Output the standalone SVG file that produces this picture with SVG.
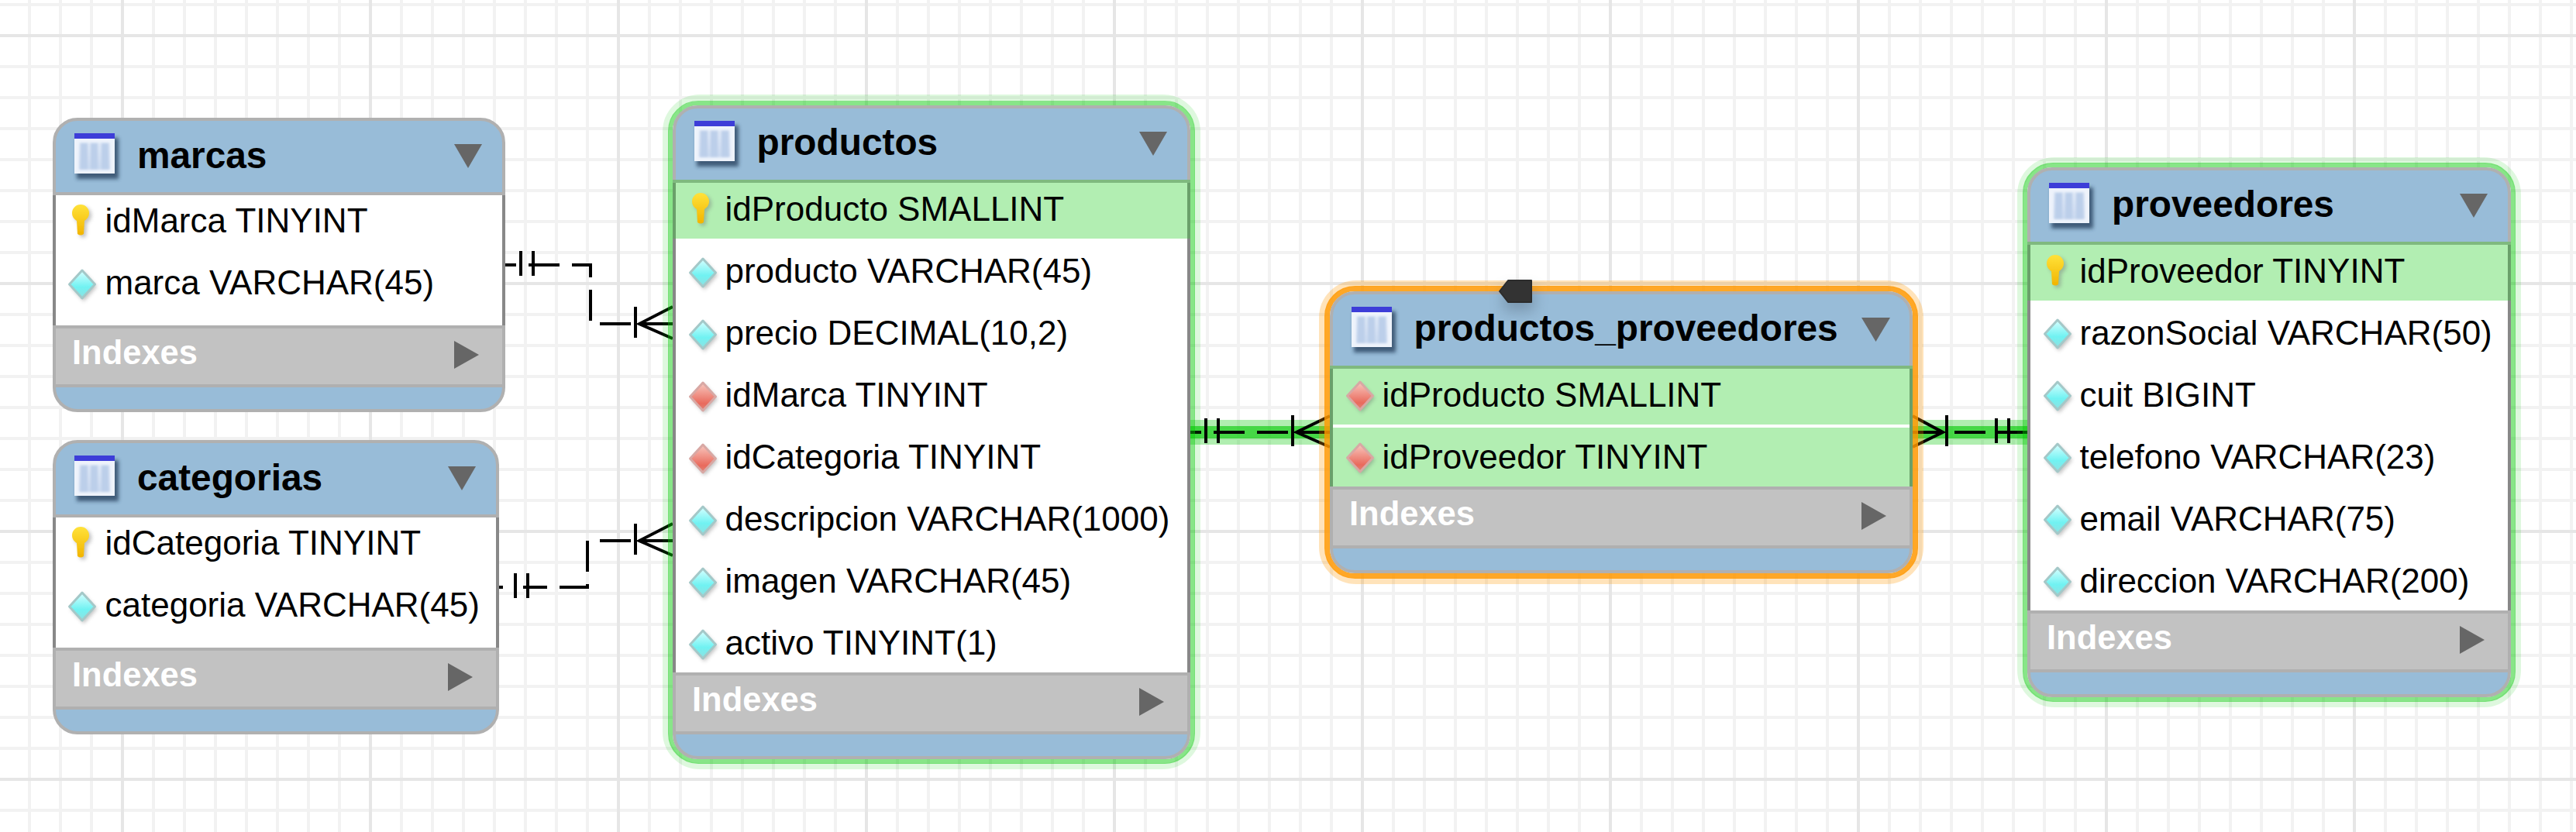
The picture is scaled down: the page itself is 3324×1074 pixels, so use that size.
<svg xmlns="http://www.w3.org/2000/svg" xmlns:xlink="http://www.w3.org/1999/xlink" width="3324" height="1074" viewBox="0 0 3324 1074">
<style>
text{font-family:"Liberation Sans",Arial,Helvetica,sans-serif;fill:#000}
.t{font-size:47.8px;font-weight:700}
.r{font-size:44px}
.i{font-size:43.5px;font-weight:700;fill:#fff}
.blue{fill:#98bcd8;stroke:#b0b0b0;stroke-width:4}
.wh{fill:#fff}
.idx{fill:#c2c2c2}
.ln{fill:#b0b0b0}
.gl{fill:#7fb97f}
.sd{fill:#888}
.hl{fill:#b2eeb2}
.sg{fill:#6aa06a}
.ar{fill:#666}
.c{stroke:#000;stroke-width:4;fill:none}
.b1{fill:rgb(0,200,0);fill-opacity:.31}
.b2{fill:rgb(0,200,0);fill-opacity:.6}
.gh{fill:none;stroke:rgb(0,199,0);stroke-opacity:.13;stroke-width:8}
.go{fill:none;stroke:rgb(0,199,0);stroke-opacity:.467;stroke-width:6}
.oh{fill:none;stroke:rgb(255,152,0);stroke-opacity:.27;stroke-width:8}
.oo{fill:none;stroke:rgb(255,152,0);stroke-opacity:.85;stroke-width:7}
</style>
<defs>
<pattern id="minor" patternUnits="userSpaceOnUse" x="36" y="4" width="40" height="40"><rect width="4" height="40" fill="#f2f2f2"/><rect width="40" height="4" fill="#f2f2f2"/></pattern>
<pattern id="major" patternUnits="userSpaceOnUse" x="156" y="44" width="320" height="320"><rect width="4" height="320" fill="#e6e6e6"/><rect width="320" height="4" fill="#e6e6e6"/></pattern>
<filter id="b05" x="-20%" y="-20%" width="140%" height="140%"><feGaussianBlur stdDeviation=".7"/></filter>
<filter id="b1" x="-40%" y="-40%" width="180%" height="180%"><feGaussianBlur stdDeviation="1.5"/></filter>
<filter id="b2" x="-40%" y="-40%" width="180%" height="180%"><feGaussianBlur stdDeviation="2.5"/></filter>
<filter id="b3" x="-60%" y="-60%" width="220%" height="220%"><feGaussianBlur stdDeviation="9"/></filter>
<linearGradient id="gk" x1="0" y1="0" x2="0" y2="1"><stop offset="0" stop-color="#ffe23a"/><stop offset="1" stop-color="#f2b400"/></linearGradient>
<linearGradient id="gc" x1="0" y1="0" x2="0" y2="1"><stop offset="0" stop-color="#d8ffff"/><stop offset=".6" stop-color="#70f2f2"/><stop offset="1" stop-color="#8fe0e0"/></linearGradient>
<linearGradient id="gr" x1="0" y1="0" x2="0" y2="1"><stop offset="0" stop-color="#f8c8c0"/><stop offset=".75" stop-color="#e96a5c"/><stop offset="1" stop-color="#e08478"/></linearGradient>
<linearGradient id="gt" x1="0" y1="0" x2="0" y2="1"><stop offset="0" stop-color="#dfe8f6"/><stop offset="1" stop-color="#c8d7ef"/></linearGradient>
<g id="tbl">
<rect x="3" y="6" width="54" height="53" fill="#243a58" opacity=".75" filter="url(#b2)"/>
<rect x="0" y="7" width="52" height="45" fill="#eef3fb" filter="url(#b05)"/>
<rect x="6" y="12" width="40" height="35" fill="url(#gt)" filter="url(#b1)"/>
<rect x="8" y="13" width="9" height="33" fill="#bccfea" filter="url(#b1)"/>
<rect x="21" y="13" width="9" height="33" fill="#bccfea" filter="url(#b1)"/>
<rect x="35" y="13" width="9" height="33" fill="#bccfea" filter="url(#b1)"/>
<rect x="0" y="0" width="52" height="7" fill="#3c3cd8" filter="url(#b05)"/>
</g>
<g id="key">
<path d="M-11 0a11 11 0 1 1 22 0c0 5-3 8-6 10l-1 17q-4 3-8 0l-1-17c-3-2-6-5-6-10z" transform="translate(3,3)" fill="#777" opacity=".45" filter="url(#b2)"/>
<path d="M-11 0a11 11 0 1 1 22 0c0 5-3 8-6 10l-1 17q-4 3-8 0l-1-17c-3-2-6-5-6-10z" fill="url(#gk)" filter="url(#b05)"/>
</g>
<polygon id="ds" points="0,-19 17,0 0,19 -17,0" transform="translate(2,3)" fill="#666" opacity=".4" filter="url(#b2)"/>
<g id="dc"><use href="#ds"/><polygon points="0,-18 16.500,0 0,18 -16.500,0" fill="url(#gc)" stroke="#a4c8c8" stroke-width="3" stroke-linejoin="round" filter="url(#b05)"/></g>
<g id="dr"><use href="#ds"/><polygon points="0,-18 16.500,0 0,18 -16.500,0" fill="url(#gr)" stroke="#d8a8a4" stroke-width="3" stroke-linejoin="round" filter="url(#b05)"/></g>
</defs>

<rect id="canvas" width="3324" height="1074" fill="#fff"/>
<rect id="grid-minor" width="3324" height="1074" fill="url(#minor)"/>
<rect id="grid-major" width="3324" height="1074" fill="url(#major)"/>

<g id="connectors">
<g id="rel-marcas-productos">
<path class="c" d="M652 342H666M672 324V356M688 324V356M682 342H722M738 342H762V358M762 374V414M774 418H814M820 396V436M868 396L825 418L868 437M825 418H868"/>
</g>
<g id="rel-categorias-productos">
<path class="c" d="M644 758H649M665 740V772M681 740V772M675 758H706M722 758H758V754M758 738V698M774 698H814M820 676V716M868 676L825 698L868 717M825 698H868"/>
</g>
<g id="rel-productos-asociacion">
<rect class="b1" x="1536" y="542" width="180" height="32"/><rect class="b2" x="1536" y="550" width="180" height="16"/>
<path class="c" d="M1536 558H1550M1556 540V572M1572 540V572M1566 558H1606M1622 558H1662M1668 536V576M1716 537L1673 558L1716 577M1673 558H1716"/>
</g>
<g id="rel-proveedores-asociacion">
<rect class="b1" x="2468" y="542" width="148" height="32"/><rect class="b2" x="2468" y="550" width="148" height="16"/>
<path class="c" d="M2468 537L2507 558L2468 577M2468 558H2507M2512 536V576M2522 558H2562M2574 558H2616M2576 540V572M2592 540V572"/>
</g>
</g>

<g id="marcas">
<rect class="blue" x="70" y="154" width="580" height="376" rx="30"/>
<rect class="ln" x="68" y="248" width="584" height="4"/>
<rect class="sd" x="68" y="252" width="584" height="168"/><rect class="wh" x="72" y="252" width="576" height="168"/>
<rect class="ln" x="68" y="420" width="584" height="4"/>
<rect class="idx" x="72" y="424" width="576" height="72"/><rect class="ln" x="68" y="424" width="4" height="72"/><rect class="ln" x="648" y="424" width="4" height="72"/>
<rect class="ln" x="68" y="496" width="584" height="4"/>
<use href="#tbl" x="96" y="172"/>
<text class="t" x="177" y="216.500">marcas</text>
<polygon class="ar" points="586,186 622,186 604,217"/>
<use href="#key" x="104" y="275"/><text class="r" x="135.500" y="300">idMarca TINYINT</text>
<use href="#dc" x="106" y="367"/><text class="r" x="135.500" y="380">marca VARCHAR(45)</text>
<text class="i" x="93" y="470">Indexes</text>
<polygon class="ar" points="586,440 618,458 586,476"/>
</g>

<g id="categorias">
<rect class="blue" x="70" y="570" width="572" height="376" rx="30"/>
<rect class="ln" x="68" y="664" width="576" height="4"/>
<rect class="sd" x="68" y="668" width="576" height="168"/><rect class="wh" x="72" y="668" width="568" height="168"/>
<rect class="ln" x="68" y="836" width="576" height="4"/>
<rect class="idx" x="72" y="840" width="568" height="72"/><rect class="ln" x="68" y="840" width="4" height="72"/><rect class="ln" x="640" y="840" width="4" height="72"/>
<rect class="ln" x="68" y="912" width="576" height="4"/>
<use href="#tbl" x="96" y="588"/>
<text class="t" x="177" y="632.500">categorias</text>
<polygon class="ar" points="578,602 614,602 596,633"/>
<use href="#key" x="104" y="691"/><text class="r" x="135.500" y="716">idCategoria TINYINT</text>
<use href="#dc" x="106" y="783"/><text class="r" x="135.500" y="796">categoria VARCHAR(45)</text>
<text class="i" x="93" y="886">Indexes</text>
<polygon class="ar" points="578,856 610,874 578,892"/>
</g>

<g id="productos">
<rect class="gh" x="859" y="126" width="686" height="863" rx="44"/>
<rect class="go" x="865" y="133" width="674" height="850" rx="36"/>
<rect class="blue" x="870" y="138" width="664" height="840" rx="30"/>
<rect class="gl" x="868" y="232" width="668" height="4"/>
<rect class="sd" x="868" y="236" width="668" height="632"/><rect class="wh" x="872" y="236" width="660" height="632"/>
<rect class="sg" x="868" y="236" width="4" height="72"/><rect class="sg" x="1532" y="236" width="4" height="72"/>
<rect class="hl" x="872" y="236" width="660" height="72"/>
<rect class="ln" x="868" y="868" width="668" height="4"/>
<rect class="idx" x="872" y="872" width="660" height="72"/><rect class="ln" x="868" y="872" width="4" height="72"/><rect class="ln" x="1532" y="872" width="4" height="72"/>
<rect class="ln" x="868" y="944" width="668" height="4"/>
<use href="#tbl" x="896" y="156"/>
<text class="t" x="976.500" y="199.500">productos</text>
<polygon class="ar" points="1470,170 1506,170 1488,201"/>
<use href="#key" x="904" y="260"/><text class="r" x="935.500" y="285">idProducto SMALLINT</text>
<use href="#dc" x="907" y="352"/><text class="r" x="935.500" y="365">producto VARCHAR(45)</text>
<use href="#dc" x="907" y="432"/><text class="r" x="935.500" y="445">precio DECIMAL(10,2)</text>
<use href="#dr" x="907" y="512"/><text class="r" x="935.500" y="525">idMarca TINYINT</text>
<use href="#dr" x="907" y="592"/><text class="r" x="935.500" y="605">idCategoria TINYINT</text>
<use href="#dc" x="907" y="672"/><text class="r" x="935.500" y="685">descripcion VARCHAR(1000)</text>
<use href="#dc" x="907" y="752"/><text class="r" x="935.500" y="765">imagen VARCHAR(45)</text>
<use href="#dc" x="907" y="832"/><text class="r" x="935.500" y="845">activo TINYINT(1)</text>
<text class="i" x="893" y="918">Indexes</text>
<polygon class="ar" points="1470,888 1502,906 1470,924"/>
</g>

<g id="productos_proveedores">
<rect class="oh" x="1706" y="366" width="772" height="384" rx="44"/>
<rect class="oo" x="1712.500" y="372.500" width="759" height="371" rx="36"/>
<rect class="blue" x="1718" y="378" width="748" height="360" rx="30"/>
<rect class="gl" x="1716" y="472" width="752" height="4"/>
<rect class="sg" x="1716" y="476" width="752" height="152"/><rect class="wh" x="1720" y="476" width="744" height="152"/>
<rect class="hl" x="1720" y="476" width="744" height="72"/><rect class="hl" x="1720" y="552" width="744" height="76"/>
<rect class="ln" x="1716" y="628" width="752" height="4"/>
<rect class="idx" x="1720" y="632" width="744" height="72"/><rect class="ln" x="1716" y="632" width="4" height="72"/><rect class="ln" x="2464" y="632" width="4" height="72"/>
<rect class="ln" x="1716" y="704" width="752" height="4"/>
<use href="#tbl" x="1744" y="396"/>
<text class="t" x="1824.500" y="439.500">productos_proveedores</text>
<polygon class="ar" points="2402,410 2439,410 2420.500,441"/>
<use href="#dr" x="1755" y="511"/><text class="r" x="1783.500" y="525">idProducto SMALLINT</text>
<use href="#dr" x="1755" y="591"/><text class="r" x="1783.500" y="605">idProveedor TINYINT</text>
<text class="i" x="1741" y="678">Indexes</text>
<polygon class="ar" points="2402,648 2434,666 2402,684"/>
<g id="tag">
<rect x="1940" y="372" width="40" height="30" fill="#456" opacity=".35" filter="url(#b3)"/>
<polygon points="1976,362 1946,362 1935,376 1946,390 1976,390" fill="#333" stroke="#2c2c2c" stroke-width="2" stroke-linejoin="round"/>
</g>
</g>

<g id="proveedores">
<rect class="gh" x="2607" y="207" width="642" height="702" rx="44"/>
<rect class="go" x="2613" y="213" width="630" height="690" rx="36"/>
<rect class="blue" x="2618" y="218" width="620" height="680" rx="30"/>
<rect class="gl" x="2616" y="312" width="624" height="4"/>
<rect class="sd" x="2616" y="316" width="624" height="472"/><rect class="wh" x="2620" y="316" width="616" height="472"/>
<rect class="sg" x="2616" y="316" width="4" height="72"/><rect class="sg" x="3236" y="316" width="4" height="72"/>
<rect class="hl" x="2620" y="316" width="616" height="72"/>
<rect class="ln" x="2616" y="788" width="624" height="4"/>
<rect class="idx" x="2620" y="792" width="616" height="72"/><rect class="ln" x="2616" y="792" width="4" height="72"/><rect class="ln" x="3236" y="792" width="4" height="72"/>
<rect class="ln" x="2616" y="864" width="624" height="4"/>
<use href="#tbl" x="2644" y="236"/>
<text class="t" x="2725" y="279.500">proveedores</text>
<polygon class="ar" points="3174,250 3210,250 3192,281"/>
<use href="#key" x="2652" y="340"/><text class="r" x="2683.500" y="365">idProveedor TINYINT</text>
<use href="#dc" x="2655" y="431"/><text class="r" x="2683.500" y="445">razonSocial VARCHAR(50)</text>
<use href="#dc" x="2655" y="511"/><text class="r" x="2683.500" y="525">cuit BIGINT</text>
<use href="#dc" x="2655" y="591"/><text class="r" x="2683.500" y="605">telefono VARCHAR(23)</text>
<use href="#dc" x="2655" y="671"/><text class="r" x="2683.500" y="685">email VARCHAR(75)</text>
<use href="#dc" x="2655" y="751"/><text class="r" x="2683.500" y="765">direccion VARCHAR(200)</text>
<text class="i" x="2641" y="838">Indexes</text>
<polygon class="ar" points="3174,808 3206,826 3174,844"/>
</g>
</svg>
